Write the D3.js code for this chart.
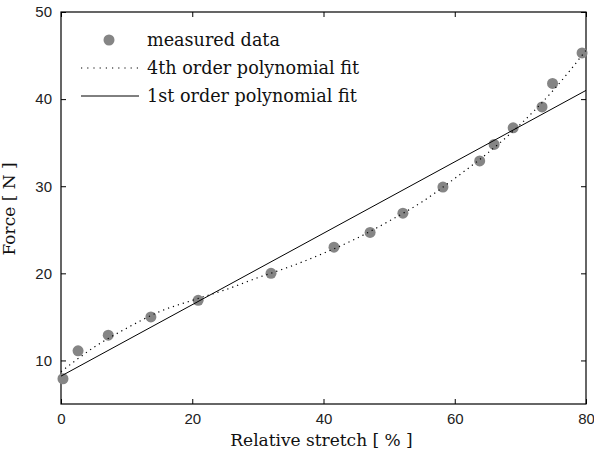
<!DOCTYPE html>
<html lang="en">
<head>
    <meta charset="UTF-8">
    <title>Force against Relative stretch</title>
    <script src="https://d3js.org/d3.v7.min.js"></script>
    <style>
        body { margin: 0; background: #fff; }
        .tick-label { font: 15px "Liberation Sans", sans-serif; fill: #222; }
        .axis-label { font: 17px "DejaVu Serif", serif; fill: #111; }
        .legend-text { font: 17.6px "DejaVu Serif", serif; fill: #111; }
    </style>
</head>
<body>
    <script>
        // measured data
        const stretch = [0.3, 2.6, 7.2, 13.7, 20.9, 32.0, 41.6, 47.1, 52.1, 58.2, 63.8, 66.0, 68.9, 73.3, 74.9, 79.4]
        const force = [7.9, 11.1, 12.9, 15.0, 16.9, 20.0, 23.0, 24.7, 26.9, 29.9, 32.9, 34.8, 36.7, 39.1, 41.8, 45.3]

        // 4th order fit
        const fit4X = [0, 5, 10, 15, 20, 25, 30, 35, 40, 45, 50, 55, 60, 65, 70, 75, 80]
        const fit4Y = [8.7, 11.5, 13.7, 15.6, 16.9, 18.1, 19.5, 20.8, 22.3, 24.0, 26.0, 28.2, 30.9, 33.8, 37.1, 41.0, 45.6]

        // 1st order fit
        const fit1X = [0, 80]
        const fit1Y = [8.2, 41.0]

        const xTicks = [0, 20, 40, 60, 80]
        const yTicks = [10, 20, 30, 40, 50]
        const legendLabels = ["measured data", "4th order polynomial fit", "1st order polynomial fit"]

        const margin = {top: 12, right: 8, bottom: 53, left: 61},
              width = 594 - margin.left - margin.right,
              height = 457 - margin.top - margin.bottom

        const svg = d3.select("body").append("svg")
            .attr("width", 594)
            .attr("height", 457)
            .append("g")
            .attr("transform", "translate(" + margin.left + "," + margin.top + ")")

        const x = d3.scaleLinear().domain([0, 80]).range([0, width])
        const y = d3.scaleLinear().domain([5, 50]).range([height, 0])

        // box with inward ticks on all sides
        const tickLen = 5
        svg.append("rect")
            .attr("width", width)
            .attr("height", height)
            .attr("fill", "none")
            .attr("stroke", "#000")
            .attr("stroke-width", 1.2)

        const axes = [
            {axis: d3.axisBottom(x), t: "translate(0," + height + ")", vals: xTicks, labels: true},
            {axis: d3.axisTop(x), t: "translate(0,0)", vals: xTicks, labels: false},
            {axis: d3.axisLeft(y), t: "translate(0,0)", vals: yTicks, labels: true},
            {axis: d3.axisRight(y), t: "translate(" + width + ",0)", vals: yTicks, labels: false}
        ]
        axes.forEach(a => {
            const g = svg.append("g")
                .attr("transform", a.t)
                .call(a.axis.tickValues(a.vals).tickSizeInner(-tickLen).tickSizeOuter(0).tickPadding(tickLen + 4))
            g.select(".domain").remove()
            g.selectAll("line").attr("stroke", "#000")
            if (a.labels) {
                g.selectAll("text").attr("class", "tick-label").attr("font-size", null).attr("font-family", null)
            } else {
                g.selectAll("text").remove()
            }
        })

        // measured data markers
        svg.append("g")
            .selectAll("circle")
            .data(stretch.map((s, i) => [s, force[i]]))
            .enter().append("circle")
            .attr("cx", d => x(d[0]))
            .attr("cy", d => y(d[1]))
            .attr("r", 5.5)
            .attr("fill", "#858585")

        const line = d3.line()
            .x(d => x(d[0]))
            .y(d => y(d[1]))

        svg.append("path")
            .datum(fit4X.map((v, i) => [v, fit4Y[i]]))
            .attr("d", line.curve(d3.curveMonotoneX))
            .attr("fill", "none")
            .attr("stroke", "#000")
            .attr("stroke-width", 1.2)
            .attr("stroke-dasharray", "1.2,4")

        svg.append("path")
            .datum(fit1X.map((v, i) => [v, fit1Y[i]]))
            .attr("d", d3.line().x(d => x(d[0])).y(d => y(d[1])))
            .attr("fill", "none")
            .attr("stroke", "#000")
            .attr("stroke-width", 1)

        // legend
        const legend = svg.append("g").attr("transform", "translate(0,0)")
        const rowY = [28, 56, 84]
        legendLabels.forEach((label, i) => {
            const row = legend.append("g").attr("transform", "translate(0," + rowY[i] + ")")
            if (i === 0) {
                row.append("circle").attr("cx", 48).attr("cy", 0).attr("r", 5.5).attr("fill", "#858585")
            } else {
                row.append("line")
                    .attr("x1", 20).attr("x2", 78)
                    .attr("stroke", "#000")
                    .attr("stroke-width", i === 1 ? 1.2 : 1)
                    .attr("stroke-dasharray", i === 1 ? "1.2,5" : null)
            }
            row.append("text")
                .attr("class", "legend-text")
                .attr("x", 86)
                .attr("dy", "0.32em")
                .text(label)
        })

        // axis labels
        svg.append("text")
            .attr("class", "axis-label")
            .attr("x", width / 2 - 2)
            .attr("y", height + 42)
            .style("text-anchor", "middle")
            .text("Relative stretch [ % ]")

        svg.append("text")
            .attr("class", "axis-label")
            .attr("transform", "rotate(-90)")
            .attr("x", -height / 2 - 1)
            .attr("y", -46)
            .style("text-anchor", "middle")
            .text("Force [ N ]")
    </script>
</body>
</html>
